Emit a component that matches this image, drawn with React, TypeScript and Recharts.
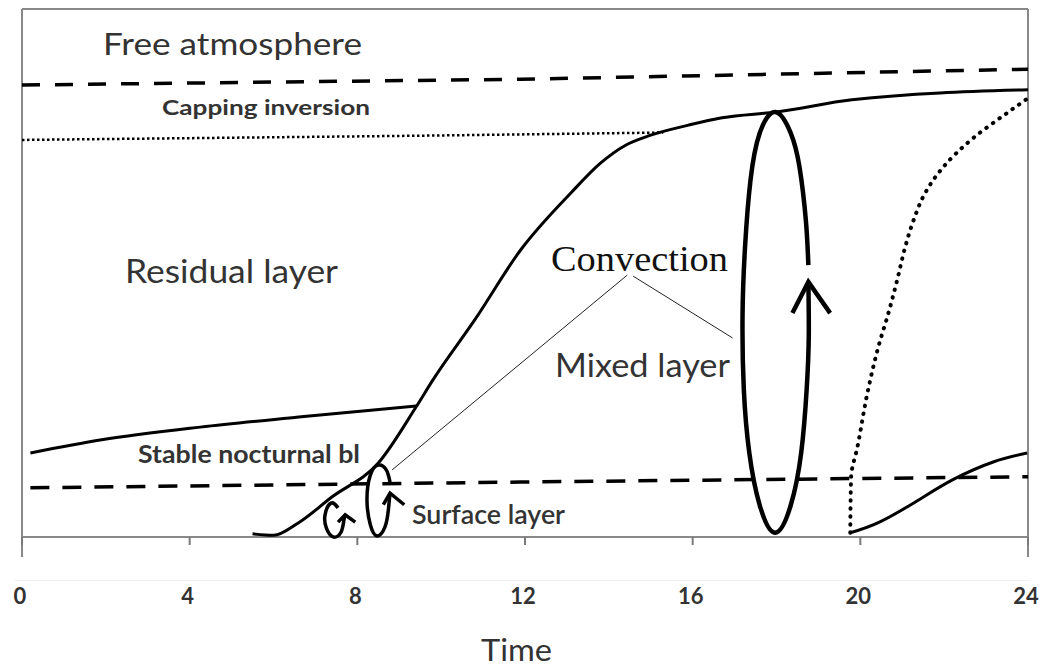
import React from 'react';
import { LineChart, Line, XAxis, YAxis, ReferenceLine } from 'recharts';

type Pt = [number, number];

// x = time of day (h), y = relative height (0 = ground, 100 = top of frame)
const timeTicks = [0, 4, 8, 12, 16, 20, 24];

const freeAtmosphereBase: Pt[] = [[0, 85.6], [11.9, 86.7], [24, 88.6]];
const cappingInversion: Pt[] = [[0, 75.2], [9.5, 76.0], [15.3, 76.6]];
const mixedLayerTop: Pt[] = [
  [5.5, 0.6], [6.0, 0.3], [6.6, 2.7], [7.4, 7.6], [8.5, 14.0], [9.4, 24.6], [9.8, 29.7],
  [10.8, 41.1], [11.9, 54.4], [13.1, 65.2], [13.8, 70.8], [14.4, 74.2], [15.0, 76.1],
  [15.9, 78.0], [16.7, 79.4], [18.0, 80.5], [19.8, 82.8], [24, 84.7],
];
const nocturnalTop: Pt[] = [[0.2, 15.9], [1.9, 18.4], [4.25, 20.8], [6.6, 22.7], [9.4, 24.8]];
const surfaceLayerTop: Pt[] = [[0.2, 9.3], [11.9, 10.4], [24, 11.4]];
const eveningResidualTop: Pt[] = [
  [19.76, 0.8], [19.78, 11.4], [19.93, 17.0], [20.17, 27.3], [20.43, 36.0], [20.67, 42.4],
  [20.88, 48.7], [21.07, 54.9], [21.27, 60.0], [21.55, 65.2], [21.95, 69.8], [22.7, 75.6],
  [23.5, 80.3], [24, 83.1],
];
const eveningNocturnalTop: Pt[] = [[19.76, 0.8], [20.48, 2.9], [21.43, 7.2], [22.22, 10.9], [23.17, 14.2], [23.98, 15.9]];

// convective eddies (loops drawn from the gap next to the arrow)
const bigEddy: Pt[] = [
  [18.76, 51.5], [18.7, 60], [18.55, 70], [18.34, 76.5], [17.97, 80.5], [17.6, 76.5],
  [17.38, 67.6], [17.25, 55], [17.19, 42], [17.22, 28], [17.35, 16], [17.6, 6],
  [17.97, 0.8], [18.34, 6], [18.59, 16], [18.72, 28], [18.77, 38], [18.76, 48.3],
];
const bigEddyArrow: Pt[] = [[18.38, 42.4], [18.76, 48.3], [19.28, 42.4]];
const smallEddy: Pt[] = [
  [8.78, 10.4], [8.69, 12.7], [8.5, 13.6], [8.31, 11.7], [8.23, 7.0], [8.31, 2.3],
  [8.47, 0.2], [8.66, 1.9], [8.74, 5.1], [8.78, 8.3],
];
const smallEddyArrow: Pt[] = [[8.62, 6.1], [8.78, 8.3], [9.12, 6.1]];
const tinyEddy: Pt[] = [
  [7.54, 5.5], [7.37, 6.4], [7.23, 4.2], [7.26, 1.7], [7.42, 0.0], [7.61, 0.9], [7.68, 3.2], [7.71, 4.2],
];
const tinyEddyArrow: Pt[] = [[7.54, 2.8], [7.71, 4.2], [7.95, 2.8]];
const leaderToSmall: Pt[] = [[14.44, 49.6], [8.83, 12.7]];
const leaderToBig: Pt[] = [[14.58, 49.4], [16.95, 37.7]];

const toData = (pts: Pt[]) => pts.map(([x, y]) => ({ x, y }));

const TimeTick = (props: any) => {
  const { x, y, payload } = props;
  return (
    <g>
      <line x1={x} x2={x} y1={y - 20} y2={y - 12} stroke="#7a7a7a" strokeWidth={2} />
      <text x={x - 2} y={y + 47} textAnchor="middle" fontFamily="Lato" fontWeight={700} fontSize={22} fill="#333">
        {payload.value}
      </text>
    </g>
  );
};

const sans = 'Lato, "Open Sans", sans-serif';

const App: React.FC = () => {
  const series = (pts: Pt[], opts: any) => (
    <Line
      data={toData(pts)}
      dataKey="y"
      stroke="#000"
      dot={false}
      activeDot={false}
      isAnimationActive={false}
      {...opts}
    />
  );

  return (
    <div style={{ position: 'relative', width: 1043, height: 670, background: '#fff' }}>
      <style>{'body{margin:0}'}</style>
      <div style={{ position: 'absolute', left: 15, top: 580, width: 1015, height: 1, background: '#f0f0f0' }} />
      <LineChart width={1043} height={670} margin={{ top: 9, left: 22, right: 15, bottom: 53 }}>
        <XAxis
          type="number"
          dataKey="x"
          domain={[0, 24]}
          ticks={timeTicks}
          axisLine={false}
          tickLine={false}
          tickSize={0}
          tickMargin={0}
          height={60}
          tick={<TimeTick />}
          allowDataOverflow
        />
        <YAxis type="number" dataKey="y" domain={[-3.8, 100]} hide allowDataOverflow />
        <ReferenceLine x={0} stroke="#888" strokeWidth={2} />
        <ReferenceLine x={24} stroke="#888" strokeWidth={2} />
        <ReferenceLine y={100} stroke="#888" strokeWidth={2} />
        <ReferenceLine y={0} stroke="#888" strokeWidth={2} />

        {series(freeAtmosphereBase, { type: 'linear', strokeWidth: 3.5, strokeDasharray: '18 15' })}
        {series(cappingInversion, { type: 'linear', strokeWidth: 2.5, strokeDasharray: '2.5 2.5' })}
        {series(surfaceLayerTop, { type: 'linear', strokeWidth: 3.5, strokeDasharray: '19 13' })}
        {series(nocturnalTop, { type: 'monotone', strokeWidth: 3 })}
        {series(mixedLayerTop, { type: 'monotone', strokeWidth: 3 })}
        {series(eveningResidualTop, { type: 'monotoneY', strokeWidth: 4, strokeDasharray: '0.5 7.5', strokeLinecap: 'round' })}
        {series(eveningNocturnalTop, { type: 'natural', strokeWidth: 3 })}
        {series(leaderToSmall, { type: 'linear', strokeWidth: 1, stroke: '#222' })}
        {series(leaderToBig, { type: 'linear', strokeWidth: 1, stroke: '#222' })}
        {series(bigEddy, { type: 'natural', strokeWidth: 4.5 })}
        {series(bigEddyArrow, { type: 'linear', strokeWidth: 4.5 })}
        {series(smallEddy, { type: 'natural', strokeWidth: 3.5 })}
        {series(smallEddyArrow, { type: 'linear', strokeWidth: 3.5 })}
        {series(tinyEddy, { type: 'natural', strokeWidth: 3.5 })}
        {series(tinyEddyArrow, { type: 'linear', strokeWidth: 3.5 })}
      </LineChart>

      <svg width={1043} height={670} style={{ position: 'absolute', left: 0, top: 0, pointerEvents: 'none' }}>
        <g fill="#333" fontFamily={sans}>
          <text x={103} y={55} fontSize={30} textLength={259} lengthAdjust="spacingAndGlyphs">Free atmosphere</text>
          <text x={162} y={115} fontSize={21} fontWeight={700} textLength={208} lengthAdjust="spacingAndGlyphs">Capping inversion</text>
          <text x={125} y={283} fontSize={33} textLength={213} lengthAdjust="spacingAndGlyphs">Residual layer</text>
          <text x={555} y={377} fontSize={32} textLength={175} lengthAdjust="spacingAndGlyphs">Mixed layer</text>
          <text x={138} y={463} fontSize={24} fontWeight={700} textLength={222} lengthAdjust="spacingAndGlyphs">Stable nocturnal bl</text>
          <text x={412} y={524} fontSize={26} fontWeight={600} textLength={153} lengthAdjust="spacingAndGlyphs">Surface layer</text>
          <text x={481} y={661} fontSize={31} textLength={71} lengthAdjust="spacingAndGlyphs">Time</text>
        </g>
        <text x={551} y={271} fill="#111" fontFamily='"Liberation Serif", "DejaVu Serif", serif' fontSize={35} textLength={177} lengthAdjust="spacingAndGlyphs">
          Convection
        </text>
      </svg>
    </div>
  );
};

export default App;
